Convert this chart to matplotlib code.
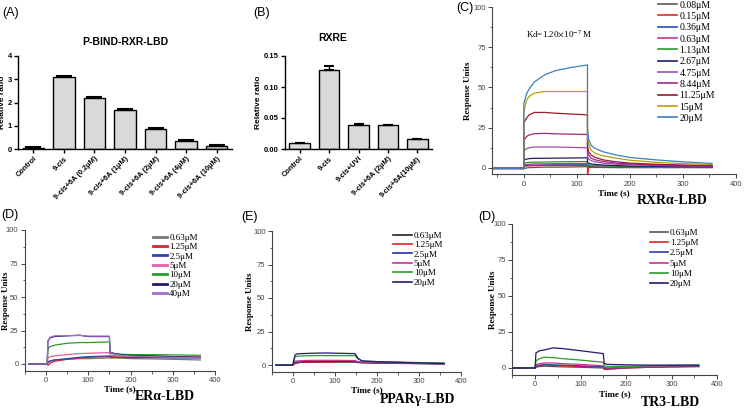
import numpy as np
import matplotlib
matplotlib.use('Agg')
import matplotlib.pyplot as plt

plt.rcParams['mathtext.fontset'] = 'stix'

W, H = 745, 408

# ---------------- panel A / B : reporter assays ----------------
a_labels = ['Control', '9-cis', '9-cis+6A (0.2\u03bcM)', '9-cis+6A (1\u03bcM)',
            '9-cis+6A (2\u03bcM)', '9-cis+6A (4\u03bcM)', '9-cis+6A (10\u03bcM)']
a_vals = [0.05, 3.08, 2.18, 1.67, 0.87, 0.35, 0.15]
a_err = [0.02, 0.07, 0.07, 0.05, 0.02, 0.03, 0.01]

b_labels = ['Control', '9-cis', '9-cis+UVI', '9-cis+6A (2\u03bcM)', '9-cis+6A(10\u03bcM)']
b_vals = [0.009, 0.127, 0.038, 0.038, 0.016]
b_err = [0.001, 0.007, 0.002, 0.0015, 0.0005]

# ---------------- panel C : RXRa-LBD sensorgrams ----------------
c_time = [-60, 0, 0, 5, 10, 20, 40, 60, 90, 120, 120, 122, 127, 135, 150, 175, 200, 250, 300, 355]
c_008 = [-0.3, -0.3, -0.5, 0, 0.2, 0.3, 0.5, 0.5, 0.6, 0.8, 0.5, 0.4, 0.3, 0.3, 0.3, 0.2, 0.2, 0.2, 0.2, 0.2]
c_015 = [-0.3, -0.3, 1, 1.2, 1.3, 1.4, 1.5, 1.5, 1.5, 1.5, -6, 0.8, 0.7, 0.6, 0.6, 0.5, 0.5, 0.4, 0.4, 0.3]
c_036 = [-0.3, -0.3, 1.5, 1.6, 1.7, 1.8, 1.9, 2, 2, 2, 1.2, 1, 0.9, 0.8, 0.7, 0.6, 0.6, 0.5, 0.5, 0.4]
c_063 = [-0.3, -0.3, 2, 2.2, 2.3, 2.5, 2.6, 2.7, 2.8, 2.8, 1.8, 1.5, 1.2, 1.1, 1, 0.9, 0.8, 0.7, 0.6, 0.5]
c_113 = [-0.3, -0.3, 3, 3.3, 3.5, 3.6, 3.7, 3.8, 3.9, 4, 2.5, 2, 1.6, 1.4, 1.2, 1, 0.9, 0.8, 0.7, 0.6]
c_267 = [-0.3, -0.3, 5, 5.5, 5.8, 6, 6, 6.1, 6.2, 6.3, 3.5, 3, 2.5, 2.2, 1.8, 1.5, 1.2, 1, 0.8, 0.7]
c_475 = [-0.3, -0.3, 10.5, 12, 12.5, 13, 13, 13, 12.8, 12.5, 7, 5.5, 4.5, 3.8, 3, 2.3, 2, 1.5, 1.2, 1]
c_844 = [-0.3, -0.3, 17, 19.5, 20.5, 21.3, 21.5, 21.2, 21, 20.8, 10, 8, 6, 5, 4, 3, 2.5, 1.8, 1.5, 1.2]
c_1125 = [-0.3, -0.3, 28, 31, 33, 34.5, 34.5, 34, 33.5, 33, 14, 10, 8, 6.5, 5, 3.8, 3, 2.3, 1.8, 1.5]
c_15 = [-0.3, -0.3, 35, 42, 44.5, 46.5, 47.5, 47.5, 47.5, 47.5, 20, 15, 11, 9, 7.5, 6, 4.8, 3.5, 2.7, 2.2]
c_20 = [-0.3, -0.3, 40, 46, 49, 53.5, 58, 60.5, 62.5, 64, 25, 18, 14, 12, 10, 8, 6.5, 5, 3.8, 2.8]
c_labels = ['0.08\u03bcM', '0.15\u03bcM', '0.36\u03bcM', '0.63\u03bcM', '1.13\u03bcM', '2.67\u03bcM',
            '4.75\u03bcM', '8.44\u03bcM', '11.25\u03bcM', '15\u03bcM', '20\u03bcM']

# ---------------- panel D : ERa-LBD ----------------
d_time = [-40, 3, 5, 10, 20, 50, 80, 100, 150, 152, 160, 180, 200, 250, 300, 365]
d_063 = [0, 0, 1.5, 2.5, 3, 3.5, 4, 4, 4.5, 4.5, 4.5, 4.3, 4, 3.8, 3.5, 3]
d_125 = [0, 0, -1, 0.5, 2, 3.5, 4.5, 5, 5.5, 5.5, 5.8, 6, 6, 5.8, 5.5, 5]
d_25 = [0, 0, 1, 2, 3, 4, 5, 5.5, 6, 5, 5, 5, 4.8, 4.8, 4.5, 4.5]
d_5 = [0, 0, 4.5, 5.5, 6, 7, 7.8, 8, 8.5, 6.5, 6.2, 6, 6, 5.8, 5.5, 5.2]
d_10 = [0, 0, 11.5, 13, 14, 15.5, 16, 16, 16.5, 8, 7.5, 7.2, 7, 7, 6.8, 6.5]
d_20 = [0, 0, 17, 19.5, 20.5, 21, 21.5, 20.5, 20.5, 9, 8, 7, 6.5, 6, 5.5, 5]
d_40 = [0, 0, 17.5, 20, 21, 21.2, 21.3, 20.8, 20.8, 8.5, 7.5, 6.5, 6, 5.5, 5, 4.5]
d_labels = ['0.63\u03bcM', '1.25\u03bcM', '2.5\u03bcM', '5\u03bcM', '10\u03bcM', '20\u03bcM', '40\u03bcM']

# ---------------- panel E : PPARg-LBD ----------------
e_time = [-40, 0, 5, 10, 20, 50, 80, 100, 148, 155, 165, 200, 250, 300, 360]
e_063 = [0, 0, 1.5, 1.8, 2, 2.2, 2.2, 2.2, 2.2, 1.8, 1.6, 1.4, 1.2, 1, 0.8]
e_125 = [0, 0, 1, 1.5, 2, 2.3, 2.5, 2.5, 2.5, 2, 1.8, 1.6, 1.4, 1.2, 1]
e_25 = [0, 0, 2, 2.2, 2.4, 2.6, 2.7, 2.7, 2.7, 2.2, 2, 1.7, 1.5, 1.2, 1]
e_5 = [0, 0, 2.8, 3, 3.2, 3.5, 3.5, 3.5, 3.3, 2.5, 2, 1.8, 1.5, 1.3, 1]
e_10 = [0, 0, 6, 6.5, 6.8, 7, 7, 7, 7, 4.5, 3, 2.5, 2.2, 1.8, 1.5]
e_20 = [0, 0, 7.5, 8.3, 8.5, 8.8, 9, 8.8, 8.5, 5, 3, 2.5, 2, 1.5, 1.2]
e_labels = ['0.63\u03bcM', '1.25\u03bcM', '2.5\u03bcM', '5\u03bcM', '10\u03bcM', '20\u03bcM']

# ---------------- panel F : TR3-LBD ----------------
f_time = [-50, 0, 2, 10, 20, 40, 60, 100, 150, 152, 160, 200, 250, 300, 360]
f_063 = [0, 0, 0.5, 1, 1.2, 1, 0.8, 0.5, 0, -0.5, -0.5, 0, 0.5, 0.8, 1]
f_125 = [0, 0, 1, 1.5, 2, 1.8, 1.5, 1, 0.5, -1, -1, 0, 0.5, 0.8, 1]
f_25 = [0, 0, 1.5, 2, 2.5, 2.2, 2, 1.5, 1, 0, -0.3, 0.3, 0.8, 1, 1.2]
f_5 = [0, 0, 2.5, 3, 3.5, 3.5, 3, 2.5, 1.5, 0.5, 0, 0.5, 1, 1.3, 1.5]
f_10 = [0, 0, 5, 6.5, 7.5, 7.2, 6.5, 5.5, 4, 1.5, 1, 1.2, 1.5, 1.8, 2]
f_20 = [0, 0, 10.5, 12, 12.5, 14, 13.5, 12, 10, 3, 2.5, 2.2, 2, 2, 2]
f_labels = e_labels

c_colors = ['#5a5a5a', '#e8262a', '#2255b0', '#d0308f', '#2a9a2a', '#1c1c70',
            '#9b4fb5', '#a02a80', '#9a1a2a', '#b8a000', '#3a80c0']
d_colors = ['#777777', '#e02030', '#3040b0', '#e060a0', '#2a9a2a', '#1c1c70', '#a070c0']
e_colors = ['#222222', '#e02030', '#2030a0', '#d0308f', '#2a9a2a', '#1c1c70']
f_colors = ['#555555', '#e02030', '#3040b0', '#d0308f', '#2a9a2a', '#1c1c70']

SANS = 'Liberation Sans'
SERIF = 'Liberation Serif'


def px(x, y):
    return x / W, 1 - y / H


def add_ax(l, t, r, b):
    return fig.add_axes([l / W, 1 - b / H, (r - l) / W, (b - t) / H])


def bar_panel(ax, labels, vals, err, ylim, yticks, fmt, cap, ylab_x):
    x = np.arange(len(vals))
    ax.bar(x, vals, width=0.7, color='#d9d9d9', edgecolor='black', linewidth=1.0, zorder=2)
    ax.errorbar(x, vals, yerr=[np.zeros(len(err)), err], fmt='none', ecolor='black',
                elinewidth=1.0, capsize=cap, capthick=1.5, zorder=3)
    ax.set_xlim(-0.5, len(vals) - 0.5)
    ax.set_ylim(*ylim)
    ax.set_yticks(yticks)
    ax.set_yticklabels([fmt.format(v) for v in yticks], fontsize=5.5, fontweight='bold', family=SANS)
    ax.set_xticks(x)
    ax.set_xticklabels(labels, rotation=45, ha='right', rotation_mode='anchor',
                       fontsize=5.3, fontweight='bold', family=SANS)
    for s in ['top', 'right']:
        ax.spines[s].set_visible(False)
    for s in ['left', 'bottom']:
        ax.spines[s].set_linewidth(1.0)
    ax.tick_params(direction='out', length=3, width=1.0, pad=1.5)
    ax.set_ylabel('Relative ratio', fontsize=6, fontweight='bold', family=SANS)
    ax.yaxis.set_label_coords(ylab_x, 0.5)


def spr_panel(ax, t, curves, colors, labels, xlim, leg_xy, leg_size, hlen, leg_lw, lsp, ylab_x):
    for y, c, lab in zip(curves, colors, labels):
        ax.plot(t, y, color=c, lw=0.9, label=lab)
    ax.set_xlim(*xlim)
    ax.set_ylim(-5, 100)
    ax.set_xticks([0, 100, 200, 300, 400])
    ax.set_xticks(np.arange(-50, 401, 50), minor=True)
    ax.set_yticks([0, 25, 50, 75, 100])
    ax.set_yticks(np.arange(0, 101, 12.5), minor=True)
    for s in ['top', 'right']:
        ax.spines[s].set_visible(False)
    for s in ['left', 'bottom']:
        ax.spines[s].set_linewidth(0.8)
        ax.spines[s].set_color('#444444')
    ax.spines['left'].set_bounds(-5, 100)
    ax.tick_params(which='major', direction='out', length=3, width=0.7, labelsize=5.5,
                   colors='#444444', pad=1.5)
    ax.tick_params(which='minor', direction='out', length=1.8, width=0.6, colors='#444444')
    for lbl in ax.get_xticklabels() + ax.get_yticklabels():
        lbl.set_family(SANS)
    ax.set_xlabel('Time (s)', fontsize=6.5, fontweight='bold', family=SERIF, labelpad=1)
    ax.set_ylabel('Response Units', fontsize=6.5, fontweight='bold', family=SERIF)
    ax.yaxis.set_label_coords(ylab_x, 0.5)
    leg = ax.legend(loc='upper left', bbox_to_anchor=px(*leg_xy), bbox_transform=fig.transFigure,
                    frameon=False, prop={'family': SERIF, 'size': leg_size},
                    handlelength=hlen, handletextpad=0.2, labelspacing=lsp,
                    borderpad=0, borderaxespad=0)
    for ln in leg.get_lines():
        ln.set_linewidth(leg_lw)
    return leg


fig = plt.figure(figsize=(W / 100, H / 100), dpi=100)

# (A)
axA = add_ax(18, 56, 232, 149)
bar_panel(axA, a_labels, a_vals, a_err, (0, 4), [0, 1, 2, 3, 4], '{:.0f}', 6, -0.055)
fig.text(*px(125, 42), 'P-BIND-RXR-LBD', ha='center', va='center', fontsize=7.5,
         fontweight='bold', family=SANS)
fig.text(*px(11, 13), '(A)', ha='center', va='center', fontsize=9, family=SANS)

# (B)
axB = add_ax(285, 56, 432, 149)
bar_panel(axB, b_labels, b_vals, b_err, (0, 0.15), [0, 0.05, 0.10, 0.15], '{:.2f}', 3.5, -0.155)
fig.text(*px(333, 38), 'RXRE', ha='center', va='center', fontsize=7.5,
         fontweight='bold', family=SANS)
fig.text(*px(262, 13), '(B)', ha='center', va='center', fontsize=9, family=SANS)

# (C)
axC = add_ax(492, 7, 736, 174.4)
spr_panel(axC, c_time, [c_008, c_015, c_036, c_063, c_113, c_267, c_475, c_844, c_1125, c_15, c_20],
          c_colors, c_labels, (-60, 400), (658, 0.5), 7, 2.0, 1.2, 0.24, -0.082)
axC.set_ylim(-4, 100)
axC.spines['left'].set_bounds(-4, 100)
axC.text(0.275, 0.84, r'Kd=1.20$\times$10$^{-7}$ M', transform=axC.transAxes, fontsize=6.5,
         family=SERIF, ha='center', va='center')
fig.text(*px(465, 8), '(C)', ha='center', va='center', fontsize=9, family=SANS)
fig.text(*px(672, 201), 'RXR\u03b1-LBD', ha='center', va='center', fontsize=10,
         fontweight='bold', family=SERIF)

# (D) ERa
axD = add_ax(24.7, 230, 215.2, 370.7)
spr_panel(axD, d_time, [d_063, d_125, d_25, d_5, d_10, d_20, d_40], d_colors, d_labels,
          (-40, 400), (153, 233.5), 6.5, 1.6, 2.0, 0.12, -0.075)
fig.text(*px(10, 215), '(D)', ha='center', va='center', fontsize=9, family=SANS)
fig.text(*px(165, 397), 'ER\u03b1-LBD', ha='center', va='center', fontsize=10,
         fontweight='bold', family=SERIF)

# (E) PPARg
axE = add_ax(271.8, 231, 461, 371.7)
spr_panel(axE, e_time, [e_063, e_125, e_25, e_5, e_10, e_20], e_colors, e_labels,
          (-40, 400), (393, 231.5), 6.5, 2.1, 1.2, 0.12, -0.095)
fig.text(*px(250, 217), '(E)', ha='center', va='center', fontsize=9, family=SANS)
fig.text(*px(417, 400), 'PPAR\u03b3-LBD', ha='center', va='center', fontsize=10,
         fontweight='bold', family=SERIF)

# (D) TR3
axF = add_ax(512.3, 224, 717, 375.2)
spr_panel(axF, f_time, [f_063, f_125, f_25, f_5, f_10, f_20], f_colors, f_labels,
          (-50, 400), (650, 228.5), 6.5, 2.0, 1.2, 0.22, -0.075)
fig.text(*px(487, 217), '(D)', ha='center', va='center', fontsize=9, family=SANS)
fig.text(*px(670, 402), 'TR3-LBD', ha='center', va='center', fontsize=10,
         fontweight='bold', family=SERIF)

fig.savefig('out.png', dpi=100)
